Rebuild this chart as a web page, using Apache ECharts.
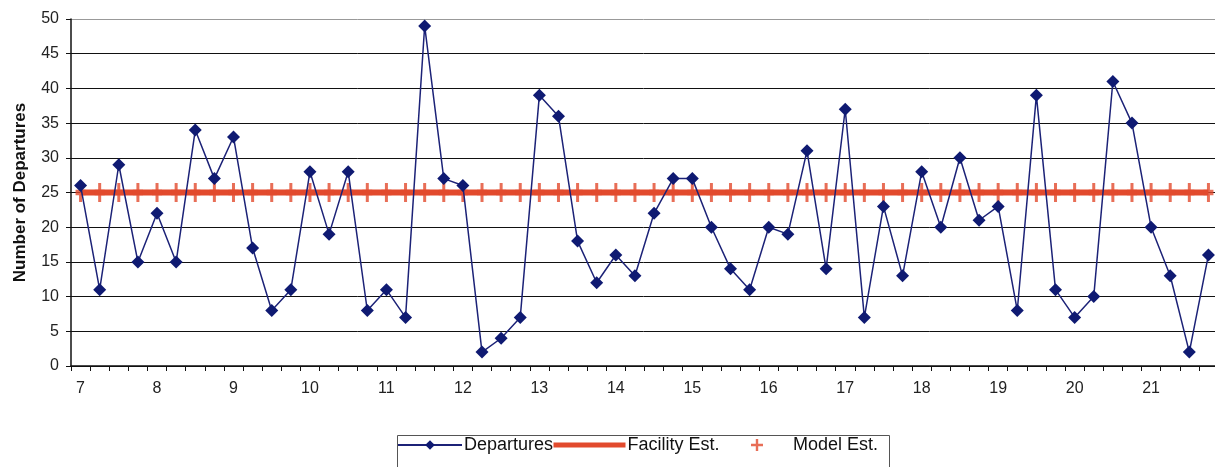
<!DOCTYPE html>
<html>
<head>
<meta charset="utf-8">
<script src="https://cdn.jsdelivr.net/npm/echarts@6/dist/echarts.min.js"></script>
<style>html,body{margin:0;padding:0;background:#fff}#c{width:1215px;height:467px}</style>
</head>
<body>
<div id="c"></div>
<script>
const categories = ['7:00','7:15','7:30','7:45','8:00','8:15','8:30','8:45','9:00','9:15','9:30','9:45',
 '10:00','10:15','10:30','10:45','11:00','11:15','11:30','11:45','12:00','12:15','12:30','12:45',
 '13:00','13:15','13:30','13:45','14:00','14:15','14:30','14:45','15:00','15:15','15:30','15:45',
 '16:00','16:15','16:30','16:45','17:00','17:15','17:30','17:45','18:00','18:15','18:30','18:45',
 '19:00','19:15','19:30','19:45','20:00','20:15','20:30','20:45','21:00','21:15','21:30','21:45'];
const departures = [26,11,29,15,22,15,34,27,33,17,8,11,
 28,19,28,8,11,7,49,27,26,2,4,7,
 39,36,18,12,16,13,22,27,27,20,14,11,
 20,19,31,14,37,7,23,13,28,20,30,21,
 23,8,39,11,7,10,41,35,20,13,2,16];
const facilityEst = categories.map(() => 25);
const modelEst = categories.map(() => 25);
const yTicks = [0,5,10,15,20,25,30,35,40,45,50];

const chart = echarts.init(document.getElementById('c'));
const font = 'Liberation Sans, Arial, sans-serif';
const RED = '#e24a2d';
const plusPath = 'path://M35,0 L65,0 L65,35 L100,35 L100,65 L65,65 L65,100 L35,100 L35,65 L0,65 L0,35 L35,35 Z';
const thinPlus = 'path://M40,0 L60,0 L60,40 L100,40 L100,60 L60,60 L60,100 L40,100 L40,60 L0,60 L0,40 L40,40 Z';
const legendText = {fontFamily: font, fontSize: 18, color: '#111'};
chart.setOption({
  animation: false,
  backgroundColor: '#fff',
  textStyle: {fontFamily: font},
  grid: {left: 71, top: 19, width: 1147, height: 347, outerBoundsMode: 'none', containLabel: false},
  graphic: [{
    type: 'rect', left: 395, top: 433, shape: {width: 492, height: 45},
    style: {fill: 'none', stroke: '#555', lineWidth: 1}, z: 1
  }],
  legend: [
    {
      top: 436, left: 397, padding: 0,
      data: [{name: 'Departures'}],
      itemWidth: 64, itemHeight: 12,
      textStyle: Object.assign({padding: [0, 0, 0, -3]}, legendText)
    },
    {
      top: 436, left: 551, padding: 0,
      data: [{name: 'Facility Est.', itemStyle: {opacity: 0}, lineStyle: {width: 5, color: RED}}],
      itemWidth: 72, itemHeight: 12,
      textStyle: Object.assign({padding: [0, 0, 0, -3]}, legendText)
    },
    {
      top: 436, left: 751, padding: 0,
      data: [{name: 'Model Est.', icon: thinPlus}],
      itemWidth: 12, itemHeight: 12,
      textStyle: Object.assign({padding: [0, 0, 0, 25]}, legendText)
    }
  ],
  xAxis: {
    type: 'category', data: categories, boundaryGap: true,
    axisLine: {lineStyle: {color: '#111', width: 1.5}},
    axisTick: {show: true, interval: 0, length: 5, lineStyle: {color: '#111'}},
    axisLabel: {interval: 3, margin: 15, fontSize: 16, color: '#222', fontFamily: font,
      formatter: v => v.split(':')[0]},
    splitLine: {show: false}
  },
  yAxis: {
    type: 'value', min: yTicks[0], max: yTicks[yTicks.length-1], interval: 5,
    name: 'Number of Departures', nameLocation: 'middle', nameGap: 42,
    nameTextStyle: {fontSize: 17, fontWeight: 'bold', color: '#111', fontFamily: font},
    axisLine: {show: true, lineStyle: {color: '#111', width: 1.5}},
    axisTick: {show: true, length: 5, lineStyle: {color: '#111'}},
    axisLabel: {fontSize: 16, color: '#222', margin: 12, fontFamily: font},
    splitLine: {show: true, lineStyle: {color: ['#111','#111','#111','#111','#111','#111','#111','#111','#111','#111','#999'], width: 1}}
  },
  series: [
    {
      name: 'Facility Est.', type: 'line', data: facilityEst, z: 2,
      symbol: 'none', lineStyle: {color: RED, width: 6}, itemStyle: {color: RED}
    },
    {
      name: 'Model Est.', type: 'scatter', data: modelEst, z: 3,
      symbol: plusPath, symbolSize: [10, 19], itemStyle: {color: RED}
    },
    {
      name: 'Departures', type: 'line', data: departures, z: 4,
      symbol: 'diamond', symbolSize: 13, showAllSymbol: true,
      lineStyle: {color: '#1c2277', width: 1.5},
      itemStyle: {color: '#0f1a72'}
    }
  ]
});
</script>
</body>
</html>
